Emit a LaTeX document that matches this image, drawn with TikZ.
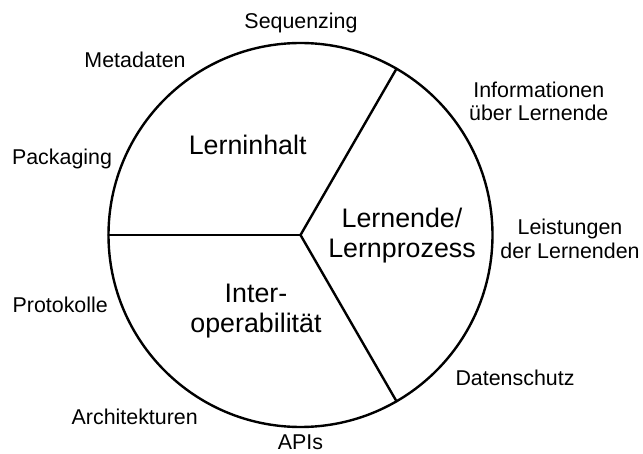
\documentclass[tikz,border=0pt]{standalone}
\usepackage{fontspec}
\setmainfont{Liberation Sans}
\begin{document}
\begin{tikzpicture}[x=1pt,y=-1pt,
  ring/.style={circle, draw, line width=2.4pt, minimum size=384pt, inner sep=0pt, outer sep=0pt},
  spoke/.style={line width=2.4pt, line cap=round},
  topic/.style={inner sep=0pt, anchor=base, align=center, font=\fontsize{21.4}{23.4}\selectfont},
  field/.style={inner sep=0pt, anchor=base, align=center, font=\fontsize{26.8}{30}\selectfont}]
  \useasboundingbox (0,0) rectangle (643,454);

  % the wheel and its three sectors
  \node[ring] (wheel) at (300.5,235) {};
  \coordinate (hub) at (wheel.center);
  \draw[spoke] (hub) -- (wheel.180);
  \draw[spoke] (hub) -- (wheel.60);
  \draw[spoke] (hub) -- (wheel.-60);

  % sector titles (base anchor sits on the last line)
  \node[field] (inhalt) at (247.7,155) {Lerninhalt};
  \node[field] (lernende) at (402,257.3) {Lernende/\\Lernprozess};
  \node[field] (interop) at (256,333) {Inter-\\operabilität};

  % topics around the rim
  \node[topic] (seq) at (301,28.3) {Sequenzing};
  \node[topic] (meta) at (135,67.3) {Metadaten};
  \node[topic] (info) at (538.8,120.7) {Informationen\\über Lernende};
  \node[topic] (pack) at (62,165) {Packaging};
  \node[topic] (leist) at (570,258.3) {Leistungen\\der Lernenden};
  \node[topic] (proto) at (60.2,313) {Protokolle};
  \node[topic] (daten) at (515,385) {Datenschutz};
  \node[topic] (arch) at (134.7,424.3) {Architekturen};
  \node[topic] (apis) at (300.5,449.5) {APIs};
\end{tikzpicture}
\end{document}
